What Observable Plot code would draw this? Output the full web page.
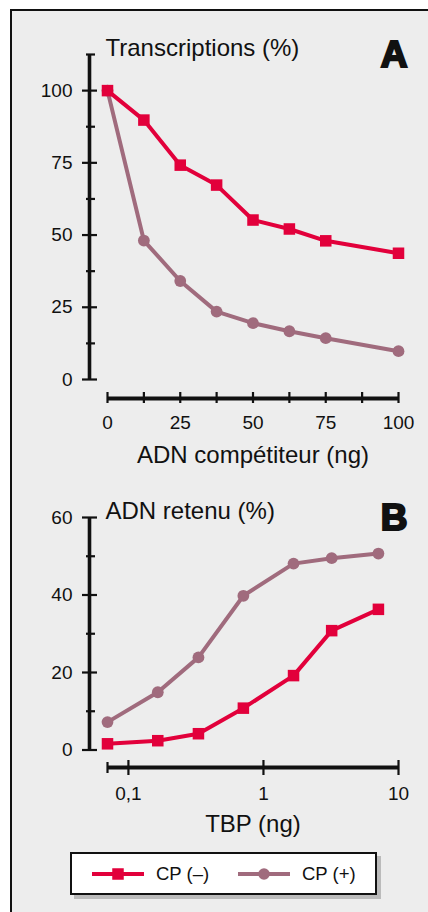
<!DOCTYPE html>
<html><head><meta charset="utf-8">
<script src="https://cdn.jsdelivr.net/npm/d3@7"></script>
<script src="https://cdn.jsdelivr.net/npm/@observablehq/plot@0.6"></script>
<style>
html,body{margin:0;padding:0;background:#fff;overflow:hidden;width:428px;height:912px;}
body{position:relative;font-family:'Liberation Sans',Arial,Helvetica,sans-serif;}
#frame{position:absolute;left:10px;top:9px;width:600px;height:1000px;border:2px solid #111;background:#ededed;box-sizing:border-box;}
#a,#b{position:absolute;left:0;}
#a{top:0}
#b{top:470px}
#legend{position:absolute;left:70px;top:852px;width:307px;height:43px;box-sizing:border-box;background:#fff;border:2px solid #111;box-shadow:4px 4px 0 #bbb;}
#legend svg{position:absolute;left:0;top:0;}
</style></head>
<body>
<div id="frame"></div>
<div id="a"></div>
<div id="b"></div>
<div id="legend"></div>
<script>
const ink = "#111";
const font = "'Liberation Sans', Arial, Helvetica, sans-serif";
const seriesNames = ["CP (–)", "CP (+)"];
const seriesColors = ["#e2003b", "#a06b7d"];
const seriesSymbols = ["square", "circle"];

// Panel A
const aTitle = "Transcriptions (%)";
const aXTitle = "ADN compétiteur (ng)";
const aLetter = "A";
const aDose = [0, 12.5, 25, 37.5, 50, 62.5, 75, 100];
const aMinus = [100, 89.8, 74.2, 67.3, 55.2, 52.1, 48.0, 43.7];
const aPlus = [100, 48.1, 34.1, 23.5, 19.5, 16.7, 14.3, 9.8];
const aXDomain = [0, 100];
const aYDomain = [0, 112.5];
const aXTicks = [0, 12.5, 25, 37.5, 50, 62.5, 75, 87.5, 100];
const aXLabels = [0, 25, 50, 75, 100];
const aYMajor = [0, 25, 50, 75, 100];
const aYMinor = [12.5, 37.5, 62.5, 87.5, 112.5];

// Panel B
const bTitle = "ADN retenu (%)";
const bXTitle = "TBP (ng)";
const bLetter = "B";
const bDose = [0.07, 0.165, 0.33, 0.71, 1.67, 3.2, 7.1];
const bMinus = [1.6, 2.4, 4.2, 10.8, 19.2, 30.8, 36.3];
const bPlus = [7.2, 14.9, 23.9, 39.8, 48.1, 49.5, 50.7];
const bXDomain = [0.07, 10];
const bYDomain = [0, 60];
const bXTicks = [0.1, 1, 10];
const bXTickLabels = ["0,1", "1", "10"];
const bYMajor = [0, 20, 40, 60];
const bYMinor = [10, 30, 50];

const rows = (xs, ys) => xs.map((x, i) => ({x, y: ys[i]}));

function seriesMarks(xs, minus, plus) {
  const sets = [minus, plus];
  const out = [];
  [1, 0].forEach(k => {
    const d = rows(xs, sets[k]);
    out.push(Plot.line(d, {x: "x", y: "y", stroke: seriesColors[k], strokeWidth: 4}));
    out.push(seriesSymbols[k] === "square"
      ? Plot.dot(d, {x: "x", y: "y", symbol: "square", r: 6.5, fill: seriesColors[k]})
      : Plot.dot(d, {x: "x", y: "y", symbol: "circle", r: 5.9, fill: seriesColors[k]}));
  });
  return out;
}

const style = {background: "transparent", overflow: "visible", fontFamily: font, color: ink};

function titleMarks(title, xTitle, letter, letterDy, xTitleDy) {
  return [
    Plot.text([title], {frameAnchor: "top-left", textAnchor: "start", lineAnchor: "bottom", dx: -2, dy: 1.5, fontSize: 24, fill: ink}),
    Plot.text([letter], {frameAnchor: "top-right", textAnchor: "end", lineAnchor: "bottom", dx: 9, dy: letterDy, fontSize: 37, fontWeight: 900, fill: ink, stroke: ink, strokeWidth: 2.2, strokeLinejoin: "miter"}),
    Plot.text([xTitle], {frameAnchor: "bottom", textAnchor: "middle", lineAnchor: "bottom", dy: xTitleDy, fontSize: 24, fill: ink})
  ];
}

const plotA = Plot.plot({
  width: 428, height: 470,
  marginTop: 54, marginBottom: 91, marginLeft: 107, marginRight: 30,
  x: {domain: aXDomain}, y: {domain: aYDomain},
  style,
  marks: [
    Plot.ruleX([aXDomain[0]], {dx: -18, strokeWidth: 3.6, stroke: ink}),
    Plot.ruleY([aYDomain[0]], {dy: 19, strokeWidth: 3.8, stroke: ink}),
    Plot.axisY({ticks: aYMajor, tickSize: 15, dx: -10, strokeWidth: 2.2, stroke: ink, fill: "none"}),
    Plot.axisY({ticks: aYMinor, tickSize: 9, dx: -12, strokeWidth: 2.2, stroke: ink, fill: "none"}),
    Plot.axisY({ticks: aYMajor, tickSize: 0, tickPadding: 35, fontSize: 19, label: null, fill: ink}),
    Plot.axisX({ticks: aXTicks, tickSize: 11, dy: 13, strokeWidth: 2.2, stroke: ink, fill: "none"}),
    Plot.axisX({ticks: aXLabels, tickSize: 0, tickPadding: 36, fontSize: 19, label: null, fill: ink}),
    ...titleMarks(aTitle, aXTitle, aLetter, 12, 83.5),
    ...seriesMarks(aDose, aMinus, aPlus)
  ]
});
document.getElementById("a").append(plotA);

const plotB = Plot.plot({
  width: 428, height: 380,
  marginTop: 47, marginBottom: 100.5, marginLeft: 107, marginRight: 30,
  x: {type: "log", domain: bXDomain}, y: {domain: bYDomain},
  style,
  marks: [
    Plot.ruleX([bXDomain[0]], {dx: -18, strokeWidth: 3.6, stroke: ink}),
    Plot.ruleY([bYDomain[0]], {dy: 17.5, strokeWidth: 3.8, stroke: ink}),
    Plot.axisY({ticks: bYMajor, tickSize: 15, dx: -10, strokeWidth: 2.2, stroke: ink, fill: "none"}),
    Plot.axisY({ticks: bYMinor, tickSize: 9, dx: -12, strokeWidth: 2.2, stroke: ink, fill: "none"}),
    Plot.axisY({ticks: bYMajor, tickSize: 0, tickPadding: 35, fontSize: 19, label: null, fill: ink}),
    Plot.axisX({ticks: bXTicks, tickSize: 15, dy: 10.5, strokeWidth: 2.2, stroke: ink, fill: "none"}),
    Plot.axisX({ticks: [bXDomain[0]], tickSize: 11, dy: 12.5, strokeWidth: 2.2, stroke: ink, fill: "none"}),
    Plot.axisX({ticks: bXTicks, tickFormat: d => bXTickLabels[bXTicks.indexOf(d)], tickSize: 0, tickPadding: 36, fontSize: 19, label: null, fill: ink}),
    ...titleMarks(bTitle, bXTitle, bLetter, 12.3, 82.2),
    ...seriesMarks(bDose, bMinus, bPlus)
  ]
});
document.getElementById("b").append(plotB);

// Legend
const legend = document.getElementById("legend");
const ns = "http://www.w3.org/2000/svg";
const svg = document.createElementNS(ns, "svg");
svg.setAttribute("width", 305); svg.setAttribute("height", 41);
const lineStarts = [20, 166];
const textStarts = [84, 230];
seriesNames.forEach((name, k) => {
  const x0 = lineStarts[k], cy = 20;
  const ln = document.createElementNS(ns, "line");
  ln.setAttribute("x1", x0); ln.setAttribute("x2", x0 + 52);
  ln.setAttribute("y1", cy); ln.setAttribute("y2", cy);
  ln.setAttribute("stroke", seriesColors[k]); ln.setAttribute("stroke-width", 4);
  svg.append(ln);
  let m;
  if (seriesSymbols[k] === "square") {
    m = document.createElementNS(ns, "rect");
    m.setAttribute("x", x0 + 26 - 5.75); m.setAttribute("y", cy - 5.75);
    m.setAttribute("width", 11.5); m.setAttribute("height", 11.5);
  } else {
    m = document.createElementNS(ns, "circle");
    m.setAttribute("cx", x0 + 26); m.setAttribute("cy", cy); m.setAttribute("r", 5.8);
  }
  m.setAttribute("fill", seriesColors[k]);
  svg.append(m);
  const t = document.createElementNS(ns, "text");
  t.setAttribute("x", textStarts[k]); t.setAttribute("y", cy);
  t.setAttribute("dy", "0.35em");
  t.setAttribute("font-size", 18.5);
  t.setAttribute("font-family", font);
  t.setAttribute("fill", ink);
  t.textContent = name;
  svg.append(t);
});
legend.append(svg);
</script>
</body></html>
